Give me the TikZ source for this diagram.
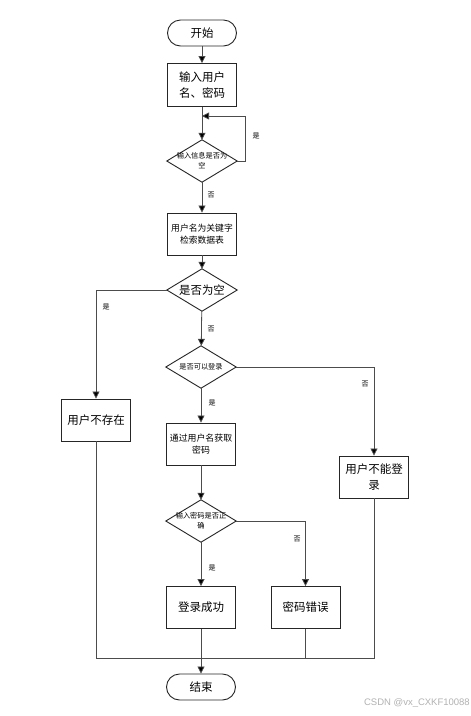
\documentclass[tikz,border=0pt]{standalone}
\usepackage{fontspec}
\setmainfont{Noto Sans CJK SC}
\newfontfamily\wmfont{Liberation Sans}
\usetikzlibrary{arrows.meta}
\tikzset{
  box/.style={draw=black!85, line width=0.9pt, minimum width=69pt, minimum height=42pt, inner sep=1pt, align=center, font=\fontsize{11.5}{16}\selectfont},
  term/.style={box, minimum height=26pt, rounded corners=13pt},
  dia/.style={minimum width=70pt, minimum height=42pt, inner sep=0pt, align=center, font=\fontsize{7.2}{10}\selectfont},
  conn/.style={draw=black!70, line width=0.8pt},
  arr/.style={conn, -{Triangle[length=7pt,width=7pt,fill=black]}},
  lab/.style={font=\fontsize{7}{8}\selectfont, inner sep=0pt},
}
\begin{document}
\begin{tikzpicture}[x=1pt,y=-1pt]
\useasboundingbox[fill=white] (0,0) rectangle (471,716);
% nodes
\node[term] (start) at (202,33) {开始};
\node[box, minimum height=43pt] (inp) at (202,85) {输入用户\\名、密码};
\node[dia] (d1) at (202,161) {输入信息是否为\\空};
\node[box, font=\fontsize{8.8}{12.3}\selectfont] (srch) at (202,234) {用户名为关键字\\检索数据表};
\node[dia, font=\fontsize{11.4}{14}\selectfont] (d2) at (202,290) {是否为空};
\node[dia] (d3) at (201,367) {是否可以登录};
\node[box] (nouser) at (96,420) {用户不存在};
\node[box, font=\fontsize{8.9}{12.3}\selectfont] (getpw) at (201,444) {通过用户名获取\\密码};
\node[box] (cannot) at (374,477) {用户不能登\\录};
\node[dia] (d4) at (201,521) {输入密码是否正\\确};
\node[box] (ok) at (201,607.5) {登录成功};
\node[box] (err) at (305.5,607.5) {密码错误};
\node[term] (end) at (201,687) {结束};
% diamonds
\foreach \n in {d1,d2,d3,d4}
  \draw[draw=black!85, line width=0.9pt] (\n.north) -- (\n.east) -- (\n.south) -- (\n.west) -- cycle;
% helper coordinates
\coordinate (loopin) at (202,116);
\coordinate (loopx) at (245,116);
\coordinate (bus) at (201,658);
% connectors
\draw[arr] (start) -- (inp);
\draw[arr] (inp) -- (d1);
\draw[arr] (d1.east) -- (d1.east -| loopx) -- (loopx) -- (loopin);
\draw[arr] (d1) -- (srch);
\draw[arr] (srch) -- (d2);
\draw[arr] (d2.west) -| (nouser.north);
\draw[arr] (d2) -- (d3);
\draw[arr] (d3) -- (getpw);
\draw[arr] (d3.east) -| (cannot.north);
\draw[arr] (getpw) -- (d4);
\draw[arr] (d4) -- (ok);
\draw[arr] (d4.east) -| (err.north);
\draw[conn] (nouser.south) -- (nouser.south |- bus) -- (cannot.south |- bus) -- (cannot.south);
\draw[conn] (err.south) -- (err.south |- bus);
\draw[arr] (ok) -- (end);
% labels
\node[lab] (l1) at (256,136) {是};
\node[lab] (l2) at (211,195) {否};
\node[lab] (l3) at (106,307) {是};
\node[lab] (l4) at (211,329) {否};
\node[lab] (l5) at (212,403) {是};
\node[lab] (l6) at (365,384) {否};
\node[lab] (l7) at (297,539) {否};
\node[lab] (l8) at (212,568) {是};
% watermark
\node[font=\wmfont\fontsize{9.5}{10}\selectfont, text=black!30, anchor=east, inner sep=0pt] (wm) at (470,703) {CSDN @vx\_CXKF10088};
\end{tikzpicture}
\end{document}
